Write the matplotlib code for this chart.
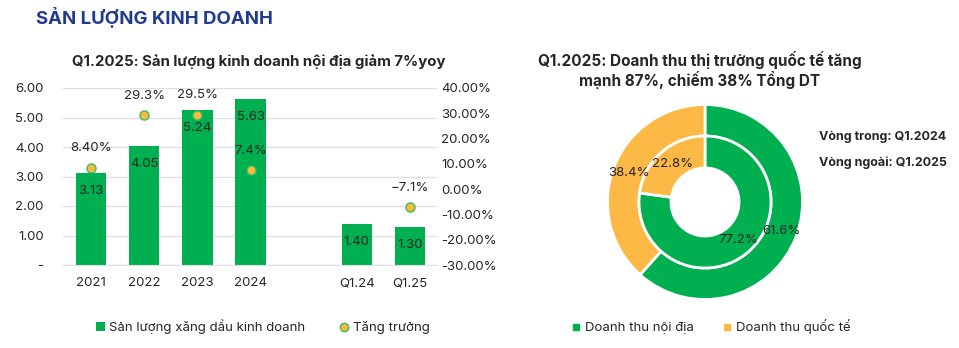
import numpy as np
import matplotlib
matplotlib.use("Agg")
import matplotlib.pyplot as plt
from matplotlib.lines import Line2D
from matplotlib.patches import Patch

plt.rcParams['font.family'] = ['Inter', 'DejaVu Sans']

# ---- data ----
categories = ['2021', '2022', '2023', '2024', '', 'Q1.24', 'Q1.25']
volume = [3.13, 4.05, 5.24, 5.63, np.nan, 1.40, 1.30]
growth = [8.40, 29.3, 29.5, 7.4, np.nan, np.nan, -7.1]
growth_labels = ['8.40%', '29.3%', '29.5%', '7.4%', '', '', '−7.1%']
left_ticks = [0, 1, 2, 3, 4, 5, 6]
left_ticklabels = ['-', '1.00', '2.00', '3.00', '4.00', '5.00', '6.00']
right_ticks = [40, 30, 20, 10, 0, -10, -20, -30]

pie_labels = ['Doanh thu nội địa', 'Doanh thu quốc tế']
outer_share = [61.6, 38.4]   # Q1.2025
inner_share = [77.2, 22.8]   # Q1.2024

GREEN = '#00B050'
ORANGE = '#FDB945'
TXT = '#262626'
GRID = '#E0E0E0'

W, H = 959, 348
fig = plt.figure(figsize=(W / 100, H / 100), dpi=100)

def fx(px):
    return px / W

def fy(py):
    return 1 - py / H

# ---- headers ----
fig.text(fx(36), fy(18), 'SẢN LƯỢNG KINH DOANH', fontsize=13.4, fontweight='bold',
         color='#1F3B8C', ha='left', va='center')
fig.text(fx(259), fy(62), 'Q1.2025: Sản lượng kinh doanh nội địa giảm 7%yoy',
         fontsize=10.8, fontweight='bold', color=TXT, ha='center', va='center')
fig.text(fx(700), fy(60), 'Q1.2025: Doanh thu thị trường quốc tế tăng',
         fontsize=11, fontweight='bold', color=TXT, ha='center', va='center')
fig.text(fx(700), fy(80), 'mạnh 87%, chiếm 38% Tổng DT',
         fontsize=11, fontweight='bold', color=TXT, ha='center', va='center')

# ---- bar chart ----
ax = fig.add_axes([fx(63), fy(265), fx(437) - fx(63), fy(88) - fy(265)])
x = np.arange(len(categories))
ax.bar(x, volume, width=0.57, color=GREEN, zorder=2)
ax.set_xlim(-0.53, 6.51)
ax.set_ylim(0, 6)
ax.set_yticks(left_ticks)
ax.set_yticklabels(left_ticklabels)
ax.set_xticks(x)
ax.set_xticklabels(categories)
ax.grid(axis='y', color=GRID, linewidth=1, zorder=0)
for s in ax.spines.values():
    s.set_visible(False)
ax.spines['bottom'].set_visible(True)
ax.spines['bottom'].set_color(GRID)
ax.tick_params(axis='both', length=0, labelsize=9.5, colors=TXT)
ax.tick_params(axis='y', pad=14)
ax.tick_params(axis='x', pad=9)
for xi, v in zip(x, volume):
    if not np.isnan(v):
        ax.annotate(f'{v:.2f}', (xi, v), xytext=(0, -13), textcoords='offset points',
                    ha='center', va='center', fontsize=9.5, color=TXT, zorder=4)

ax2 = ax.twinx()
ax2.set_ylim(-30, 40)
ax2.set_yticks(right_ticks)
ax2.set_yticklabels([f'{t:.2f}%' for t in right_ticks])
ax2.tick_params(axis='y', length=0, labelsize=9.5, colors=TXT, pad=3)
for s in ax2.spines.values():
    s.set_visible(False)
ax2.plot(x, growth, linestyle='none', marker='o', markersize=6.5,
         markerfacecolor='#F9B93F', markeredgecolor='#3DBB5A', markeredgewidth=1.0, zorder=5)
for xi, g, lab in zip(x, growth, growth_labels):
    if not np.isnan(g):
        ax2.annotate(lab, (xi, g), xytext=(0, 14), textcoords='offset points',
                     ha='center', va='center', fontsize=9.5, color=TXT)

handles = [Patch(facecolor=GREEN, edgecolor='none'),
           Line2D([], [], linestyle='none', marker='o', markersize=6,
                  markerfacecolor='#F9B93F', markeredgecolor='#3DBB5A')]
fig.legend(handles, ['Sản lượng xăng dầu kinh doanh', 'Tăng trưởng'],
           loc='center', bbox_to_anchor=(fx(263), fy(327)), ncol=2, frameon=False,
           fontsize=9.5, handlelength=0.7, handletextpad=0.3, columnspacing=2.6,
           labelcolor=TXT)

# ---- donut chart ----
R = 97.5
pax = fig.add_axes([fx(705 - R), fy(202 + R), 2 * R / W, 2 * R / H])
wprops = dict(edgecolor='white', linewidth=2)
outer = pax.pie(outer_share, radius=1.0, colors=[GREEN, ORANGE], startangle=90,
                counterclock=False, wedgeprops=dict(width=0.323, **wprops),
                autopct='%.1f%%', pctdistance=0.84,
                textprops=dict(fontsize=9.5, color=TXT))
inner = pax.pie(inner_share, radius=0.677, colors=[GREEN, ORANGE], startangle=90,
                counterclock=False, wedgeprops=dict(width=0.328, **wprops),
                autopct='%.1f%%', pctdistance=0.758,
                textprops=dict(fontsize=9.5, color=TXT))
pax.set_xlim(-1, 1)
pax.set_ylim(-1, 1)
pax.set_aspect('equal')
pax.axis('off')

fig.text(fx(819), fy(137), 'Vòng trong: Q1.2024', fontsize=9, fontweight='bold',
         color=TXT, ha='left', va='center')
fig.text(fx(819), fy(163), 'Vòng ngoài: Q1.2025', fontsize=9, fontweight='bold',
         color=TXT, ha='left', va='center')

phandles = [Line2D([], [], linestyle='none', marker='s', markersize=5, color=GREEN),
            Line2D([], [], linestyle='none', marker='s', markersize=5, color=ORANGE)]
fig.legend(phandles, pie_labels, loc='center', bbox_to_anchor=(fx(711), fy(327)),
           ncol=2, frameon=False, fontsize=9.5, handlelength=0.7, handletextpad=0.3,
           columnspacing=2.2, labelcolor=TXT)

fig.savefig('out.png', dpi=100)
